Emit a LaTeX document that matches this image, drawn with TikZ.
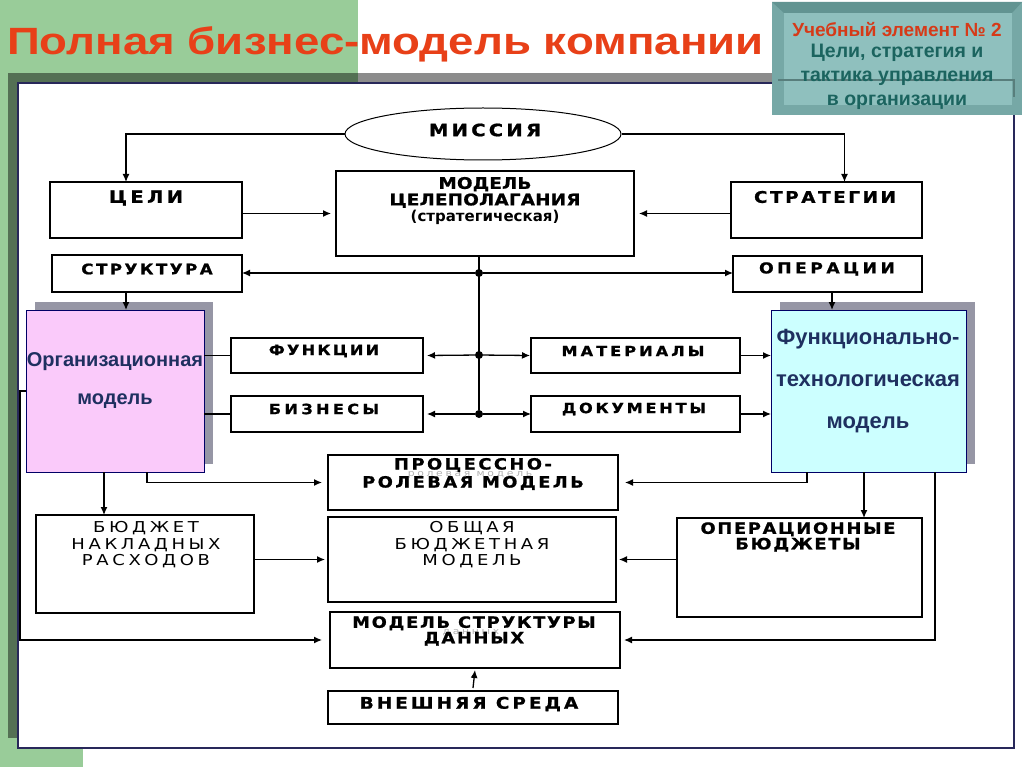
\documentclass[tikz,border=0pt]{standalone}
\usepackage{fontspec}
\usepackage{graphicx}
\setmainfont{Liberation Sans}
\newfontfamily\capsfont[FakeStretch=1.15, BoldFeatures={FakeBold=1}]{DejaVu Sans}
\newfontfamily\wideplain[FakeStretch=1.2]{DejaVu Sans}
\newfontfamily\plainbold{DejaVu Sans}
\usetikzlibrary{arrows.meta,shapes.geometric,shadows}
\definecolor{slgreen}{RGB}{153,204,153}
\definecolor{titlered}{RGB}{232,64,24}
\definecolor{unitred}{RGB}{214,58,24}
\definecolor{tealface}{RGB}{143,192,190}
\definecolor{tealrim}{RGB}{118,168,166}
\definecolor{tealtop}{RGB}{98,148,146}
\definecolor{tealtext}{RGB}{27,100,95}
\definecolor{framenavy}{RGB}{40,40,90}
\definecolor{orgpink}{RGB}{250,202,250}
\definecolor{ftmcyan}{RGB}{204,255,255}
\definecolor{mdltext}{RGB}{31,48,96}
\definecolor{shade}{RGB}{150,150,165}
\tikzset{every picture/.style = {x=1pt, y=-1pt}}
\tikzset{blk/.style = {draw, line width=1.7pt, rectangle, inner sep=0, outer sep=0}}
\tikzset{mdl/.style = {draw=black!60!blue, line width=1pt, rectangle, inner sep=0, outer sep=0,
  drop shadow={shadow xshift=9pt, shadow yshift=8pt, fill=shade, opacity=1}}}
\tikzset{cap/.style n args = {3}{inner sep=0, align=center,
  font=\capsfont\bfseries\fontsize{#1}{#2}\selectfont\addfontfeature{LetterSpace=#3}}}
\tikzset{thin/.style n args = {3}{inner sep=0, align=center,
  font=\wideplain\fontsize{#1}{#2}\selectfont\addfontfeature{LetterSpace=#3}}}
\tikzset{mtxt/.style = {inner sep=0, align=center, text=mdltext}}
\tikzset{arr/.style = {line width=1.3pt, -{Latex[length=8pt,width=7pt]}}}
\tikzset{ln/.style = {line width=1.3pt}}
\tikzset{dot/.style = {fill, circle, inner sep=0, minimum size=8pt}}

\begin{document}
\begin{tikzpicture}
  \useasboundingbox (0,0) rectangle (1024,767);
  \fill[white] (0,0) rectangle (1024,767);
  \fill[slgreen] (0,0) rectangle (358,83);
  \fill[slgreen] (0,0) rectangle (83,767);
  \fill[black, opacity=0.45] (8,73) rectangle (1005,738);
  \draw[framenavy, line width=1.2pt, fill=white] (18,83) rectangle (1014,748);

  % title and unit box
  \node[anchor=base west, inner sep=0, text=titlered,
    font=\bfseries\fontsize{38}{40}\selectfont] (title) at (7,55)
    {\scalebox{1.2}[1]{Полная бизнес-модель компании}};
  \fill[tealrim] (772,2) rectangle (1022,115);
  \fill[tealtop] (772,2) -- (1022,2) -- (1012,13) -- (784,13) -- cycle;
  \fill[tealface] (784,13) rectangle (1012,105);
  \draw[black!25!tealrim, line width=1.5pt] (778,80) -- (1014,80) -- (1014,97);
  \node[inner sep=0, text=unitred, font=\bfseries\fontsize{19}{22}\selectfont]
    (unit) at (897,30) {Учебный элемент № 2};
  \node[inner sep=0, align=center, text=tealtext,
    font=\bfseries\fontsize{19.5}{24}\selectfont] (topic) at (897,77)
    {Цели, стратегия и\\тактика управления\\в организации};

  % boxes
  \node[draw, ellipse, line width=1pt, inner sep=0, minimum width=276pt,
    minimum height=52pt] (mission) at (483,134) {};
  \node[blk, minimum width=192pt, minimum height=56pt] (celi) at (146,210) {};
  \node[blk, minimum width=298pt, minimum height=85pt] (model) at (485,213.5) {};
  \node[blk, minimum width=191pt, minimum height=56pt] (strat) at (826.5,210) {};
  \node[blk, minimum width=190pt, minimum height=37pt] (struct) at (147,273.5) {};
  \node[blk, minimum width=189pt, minimum height=36pt] (oper) at (827.5,274) {};
  \node[mdl, fill=orgpink, minimum width=178pt, minimum height=162pt] (org) at (115,391) {};
  \node[mdl, fill=ftmcyan, minimum width=195pt, minimum height=162pt] (ftm) at (868.5,391) {};
  \node[blk, minimum width=192pt, minimum height=35pt] (func) at (327,355.5) {};
  \node[blk, minimum width=192pt, minimum height=36pt] (biz) at (327,414) {};
  \node[blk, minimum width=209pt, minimum height=35pt] (mat) at (635.5,355.5) {};
  \node[blk, minimum width=209pt, minimum height=36pt] (doc) at (635.5,414) {};
  \node[blk, minimum width=290pt, minimum height=55pt] (proc) at (473,482.5) {};
  \node[blk, minimum width=218pt, minimum height=98pt] (overhead) at (145,564) {};
  \node[blk, minimum width=288pt, minimum height=85pt] (total) at (472,559.5) {};
  \node[blk, minimum width=245pt, minimum height=99pt] (opbud) at (799.5,567.5) {};
  \node[blk, minimum width=290pt, minimum height=56pt] (data) at (475,640) {};
  \node[blk, minimum width=290pt, minimum height=33pt] (env) at (473,707.5) {};

  % texts
  \node[cap={17}{19}{19}] (t-mission) at (485,130) {МИССИЯ};
  \node[cap={17}{19}{20}] (t-celi) at (146,198) {ЦЕЛИ};
  \node[cap={16}{16.5}{1}] (t-model) at (485,201)
    {МОДЕЛЬ\\ЦЕЛЕПОЛАГАНИЯ\\{\plainbold\bfseries\fontsize{15}{16}\selectfont(стратегическая)}};
  \node[cap={16}{18}{16}] (t-strat) at (825,197) {СТРАТЕГИИ};
  \node[cap={14.5}{16}{17}] (t-struct) at (147,269) {СТРУКТУРА};
  \node[cap={15}{17}{23}] (t-oper) at (827,269) {ОПЕРАЦИИ};
  \node[cap={14}{16}{16}] (t-func) at (324,351) {ФУНКЦИИ};
  \node[cap={14}{16}{24}] (t-biz) at (324,409) {БИЗНЕСЫ};
  \node[cap={14}{16}{22}] (t-mat) at (633,351) {МАТЕРИАЛЫ};
  \node[cap={14}{16}{20}] (t-doc) at (634,409) {ДОКУМЕНТЫ};
  \node[mtxt, font=\bfseries\fontsize{20}{38}\selectfont] (t-org) at (115,381)
    {Организационная\\модель};
  \node[mtxt, font=\bfseries\fontsize{22}{42}\selectfont] (t-ftm) at (868,381)
    {Функционально-\\технологическая\\модель};
  \node[thin={9}{10}{30}, text=black!30] (t-ghost1) at (470,475) {ролевая модель};
  \node[cap={15.5}{18}{16}] (t-proc) at (473,474) {ПРОЦЕССНО-\\РОЛЕВАЯ МОДЕЛЬ};
  \node[thin={15}{16.5}{24}] (t-overhead) at (146,545) {БЮДЖЕТ\\НАКЛАДНЫХ\\РАСХОДОВ};
  \node[thin={15}{16.5}{24}] (t-total) at (472,545) {ОБЩАЯ\\БЮДЖЕТНАЯ\\МОДЕЛЬ};
  \node[cap={15.5}{15.5}{11}] (t-opbud) at (798,537) {ОПЕРАЦИОННЫЕ\\БЮДЖЕТЫ};
  \node[thin={9}{10}{30}, text=black!30] (t-ghost2) at (471,633) {данных};
  \node[cap={15.5}{15.5}{11}] (t-data) at (474,631) {МОДЕЛЬ СТРУКТУРЫ\\ДАННЫХ};
  \node[cap={16}{18}{19}] (t-env) at (469,704) {ВНЕШНЯЯ СРЕДА};

  % junctions
  \node[dot] (j1) at (479,273) {};
  \node[dot] (j2) at (479,355) {};
  \node[dot] (j3) at (479,414) {};
  \coordinate (lbend) at (20,391);

  % connectors
  \draw[arr] (mission.west) -| ([xshift=-20pt]celi.north);
  \draw[arr] (mission.east) -| ([xshift=18pt]strat.north);
  \draw[arr] (celi.east |- model.west) -- ([xshift=-5pt]model.west);
  \draw[arr] (strat.west |- model.east) -- ([xshift=5pt]model.east);
  \draw[ln] (model.south -| j1) -- (j3);
  \draw[arr] (j1) -- (struct.east |- j1);
  \draw[arr] (j1) -- (oper.west |- j1);
  \draw[arr] (j2) -- ([xshift=4pt]func.east);
  \draw[arr] (j2) -- ([xshift=-1pt]mat.west);
  \draw[arr] (j3) -- ([xshift=4pt]biz.east);
  \draw[arr] (j3) -- (doc.west);
  \draw[ln] (func.west) -- (func.west -| org.east);
  \draw[ln] (biz.west) -- (biz.west -| org.east);
  \draw[arr] (mat.east) -- (mat.east -| ftm.west);
  \draw[arr] (doc.east) -- (doc.east -| ftm.west);
  \draw[arr] ([xshift=-21pt]struct.south) -- ([xshift=11pt]org.north);
  \draw[arr] ([xshift=4.5pt]oper.south) -- ([xshift=-36.5pt]ftm.north);
  \draw[arr] ([xshift=32pt]org.south) |- ([xshift=-6pt]proc.west);
  \draw[arr] ([xshift=-61.5pt]ftm.south) |- ([xshift=7pt]proc.east);
  \draw[arr] ([xshift=-11pt]org.south) -- ([xshift=-41pt]overhead.north);
  \draw[arr] ([xshift=-4.5pt]ftm.south) -- ([xshift=64.5pt]opbud.north);
  \draw[arr] ([xshift=66.5pt]ftm.south) |- ([xshift=4pt]data.east);
  \draw[arr] (org.west) -- (lbend) |- ([xshift=-8pt]data.west);
  \draw[arr] (overhead.east |- total.west) -- ([xshift=-3pt]total.west);
  \draw[arr] (opbud.west |- total.east) -- ([xshift=3pt]total.east);
  \draw[arr] ([yshift=3pt]env.north) -- ([yshift=-2pt]data.south);
\end{tikzpicture}
\end{document}
